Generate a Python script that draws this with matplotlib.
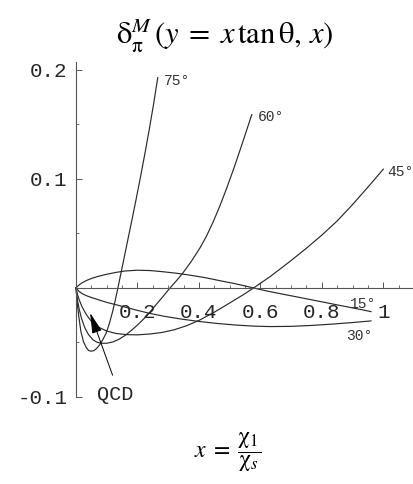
import matplotlib
matplotlib.use("Agg")
import matplotlib.pyplot as plt
from matplotlib.ticker import FixedLocator, MultipleLocator

plt.rcParams['mathtext.fontset'] = 'stix'

# ---- data ----
x15 = [0, 0.005, 0.01, 0.02, 0.035, 0.05, 0.07, 0.10, 0.13, 0.16, 0.20, 0.241, 0.28, 0.328, 0.37, 0.42,
       0.47, 0.512, 0.545, 0.578, 0.62, 0.67, 0.73, 0.80, 0.85, 0.89, 0.93, 0.96]
y15 = [0, 0.0015, 0.0028, 0.0048, 0.0070, 0.0087, 0.0105, 0.0126, 0.0143, 0.0156, 0.0163, 0.0160, 0.0150,
       0.0135, 0.0118, 0.0095, 0.0066, 0.0043, 0.0022, 0.0, -0.0027, -0.0055, -0.0088, -0.0127, -0.0155,
       -0.0177, -0.0199, -0.0217]

x30 = [0, 0.005, 0.01, 0.02, 0.035, 0.05, 0.075, 0.10, 0.143, 0.19, 0.241, 0.29, 0.34, 0.40, 0.458, 0.52,
       0.58, 0.632, 0.70, 0.77, 0.84, 0.90, 0.96]
y30 = [0, -0.0017, -0.0031, -0.0052, -0.0072, -0.0087, -0.0110, -0.0132, -0.0163, -0.0198, -0.0234, -0.0261,
       -0.0284, -0.0307, -0.0325, -0.0340, -0.0350, -0.0354, -0.0352, -0.0343, -0.0330, -0.0317, -0.0302]

x45 = [0, 0.005, 0.01, 0.02, 0.035, 0.05, 0.07, 0.10, 0.13, 0.165, 0.20, 0.24, 0.28, 0.32, 0.36, 0.40,
       0.45, 0.50, 0.55, 0.578, 0.632, 0.697, 0.75, 0.80, 0.85, 0.90, 0.95, 1.00]
y45 = [0, -0.0060, -0.0105, -0.0175, -0.0250, -0.0305, -0.0355, -0.0395, -0.0417, -0.0428, -0.0430,
       -0.0422, -0.0408, -0.0383, -0.0346, -0.0298, -0.0222, -0.0138, -0.0052, 0.0, 0.0105, 0.0245,
       0.0365, 0.0485, 0.0615, 0.0765, 0.0925, 0.1090]

x60 = [0, 0.004, 0.01, 0.018, 0.028, 0.04, 0.055, 0.07, 0.085, 0.10, 0.12, 0.14, 0.16, 0.18, 0.20, 0.22,
       0.241, 0.263, 0.285, 0.306, 0.328, 0.349, 0.375, 0.404, 0.425, 0.447, 0.47, 0.491, 0.513, 0.534,
       0.553, 0.572]
y60 = [0, -0.0100, -0.0190, -0.0280, -0.0360, -0.0425, -0.0475, -0.0500, -0.0507, -0.0507, -0.0495,
       -0.0470, -0.0435, -0.0390, -0.0340, -0.0285, -0.0220, -0.0145, -0.0072, 0.0, 0.0070, 0.0142,
       0.0243, 0.0370, 0.0478, 0.0610, 0.0765, 0.0920, 0.1092, 0.1266, 0.1427, 0.1590]

x75 = [0, 0.004, 0.009, 0.016, 0.024, 0.033, 0.041, 0.049, 0.058, 0.067, 0.076, 0.087, 0.098, 0.108,
       0.119, 0.128, 0.136, 0.1466, 0.155, 0.163, 0.174, 0.185, 0.195, 0.21, 0.225, 0.24, 0.253, 0.266]
y75 = [0, -0.0140, -0.0260, -0.0400, -0.0490, -0.0545, -0.0573, -0.0580, -0.0575, -0.0555, -0.0525,
       -0.0475, -0.0415, -0.0330, -0.0218, -0.0110, -0.0005, 0.0140, 0.0255, 0.0365, 0.0515, 0.0665,
       0.0805, 0.1020, 0.1245, 0.1480, 0.1695, 0.1930]

curve_labels = ["15°", "30°", "45°", "60°", "75°"]
label_pos_x = [0.935, 0.923, 1.012, 0.592, 0.287]
label_pos_y = [-0.0147, -0.0445, 0.106, 0.1564, 0.190]

xticks = [0.2, 0.4, 0.6, 0.8, 1.0]
xticklabels = ["0.2", "0.4", "0.6", "0.8", "1"]
yticks = [-0.1, 0.1, 0.2]
yticklabels = ["-0.1", "0.1", "0.2"]

qcd_tail = (0.119, -0.080)
qcd_head = (0.046, -0.023)
qcd_text = (0.128, -0.098)

# ---- figure ----
W, H = 414, 484
fig = plt.figure(figsize=(W / 100, H / 100), dpi=100)
ax = fig.add_axes([76 / W, 87 / H, 338 / W, 335 / H])
ax.set_xlim(0, 1.1)
ax.set_ylim(-0.1, 0.2073)

lc = '#2a2a2a'
for xs, ys in [(x15, y15), (x30, y30), (x45, y45), (x60, y60), (x75, y75)]:
    ax.plot(xs, ys, color=lc, lw=0.85, solid_joinstyle='round', clip_on=False)

mono = 'Liberation Mono'
txtc = '#262626'
for lab, lx, ly in zip(curve_labels, label_pos_x, label_pos_y):
    ha = 'left' if lab in ("45°", "60°", "75°") else 'center'
    ax.text(lx, ly, lab, fontsize=10.5, family=mono, ha=ha, va='center',
            color='#333333', clip_on=False)

ax.annotate("", xy=qcd_head, xytext=qcd_tail,
            arrowprops=dict(arrowstyle='-|>,head_length=0.9,head_width=0.22',
                            color='black', lw=0.7, mutation_scale=14,
                            shrinkA=0, shrinkB=0))
ax.text(qcd_text[0], qcd_text[1], "QCD", fontsize=14.5, family=mono,
        ha='center', va='center', color=txtc)

# spines
for s in ['top', 'right']:
    ax.spines[s].set_visible(False)
ax.spines['left'].set_position(('data', 0))
ax.spines['bottom'].set_position(('data', 0))
for s in ['left', 'bottom']:
    ax.spines[s].set_linewidth(0.8)
    ax.spines[s].set_color('#555555')

ax.xaxis.set_major_locator(FixedLocator(xticks))
ax.set_xticklabels(xticklabels)
ax.xaxis.set_minor_locator(MultipleLocator(0.05))
ax.yaxis.set_major_locator(FixedLocator(yticks))
ax.set_yticklabels(yticklabels)
ax.yaxis.set_minor_locator(FixedLocator([-0.05, 0.05, 0.15]))

ax.tick_params(axis='both', which='major', direction='in', length=4, width=0.7,
               color='#555555')
ax.tick_params(axis='both', which='minor', direction='in', length=2.5, width=0.6,
               color='#555555')
ax.tick_params(axis='x', which='major', pad=11, labelsize=15, labelcolor=txtc)
ax.tick_params(axis='y', which='major', pad=6, labelsize=15, labelcolor=txtc)
for t in ax.get_xticklabels() + ax.get_yticklabels():
    t.set_family(mono)

ax.patch.set_visible(False)

fig.text(225 / W, 1 - 36 / H,
         r'$\mathrm{\delta}_{\mathrm{\pi}}^{M}\,(y\;=\;x\,\mathrm{tan}\,\mathrm{\theta},\,x)$',
         fontsize=22, ha='center', va='center')
fig.text(228 / W, 1 - 452 / H, r'$x\;=\;\dfrac{\mathrm{\chi}_{1}}{\mathrm{\chi}_{s}}$',
         fontsize=17, ha='center', va='center')

fig.savefig('out.png', dpi=100)
